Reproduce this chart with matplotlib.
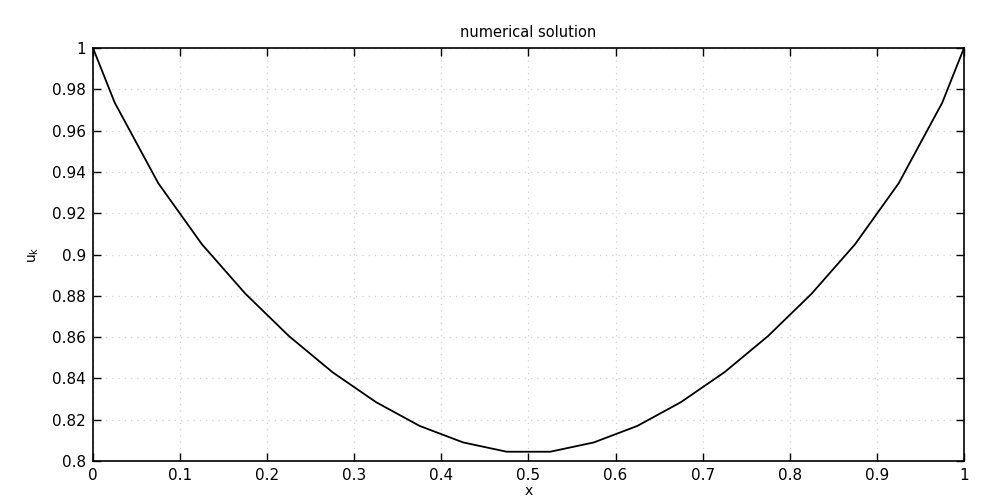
import numpy as np
import matplotlib.pyplot as plt

# cell centres plus the two boundary points
x_nodes = [0.0, 0.025, 0.075, 0.125, 0.175, 0.225, 0.275, 0.325, 0.375, 0.425, 0.475,
           0.525, 0.575, 0.625, 0.675, 0.725, 0.775, 0.825, 0.875, 0.925, 0.975, 1.0]
u_left = [1.0, 0.9735, 0.9345, 0.9050, 0.8810, 0.8605, 0.8430, 0.8285, 0.8170, 0.8090, 0.8045]
u_k = u_left + u_left[::-1]

x_ticks = [0, 0.1, 0.2, 0.3, 0.4, 0.5, 0.6, 0.7, 0.8, 0.9, 1]
x_ticklabels = ['0', '0.1', '0.2', '0.3', '0.4', '0.5', '0.6', '0.7', '0.8', '0.9', '1']
y_ticks = [0.8, 0.82, 0.84, 0.86, 0.88, 0.9, 0.92, 0.94, 0.96, 0.98, 1.0]
y_ticklabels = ['0.8', '0.82', '0.84', '0.86', '0.88', '0.9', '0.92', '0.94', '0.96', '0.98', '1']

plt.rcParams['font.family'] = ['DejaVu Sans']

fig = plt.figure(figsize=(9.87, 5.01), dpi=100)
ax = fig.add_axes([0.0942, 0.0798, 0.8825, 0.8244])

ax.plot(x_nodes, u_k, color='black', linewidth=1.3)

ax.set_xlim(0, 1)
ax.set_ylim(0.8, 1.0)
ax.set_xticks(x_ticks)
ax.set_xticklabels(x_ticklabels)
ax.set_yticks(y_ticks)
ax.set_yticklabels(y_ticklabels)
ax.tick_params(direction='in', length=6, width=1, top=True, right=True,
               labelsize=11, pad=5, colors='black')
ax.grid(True, linestyle=(0, (1, 4)), color='#d0d0d0', linewidth=0.9)
for s in ax.spines.values():
    s.set_linewidth(1.2)

ax.set_title('numerical solution', fontsize=10.5, pad=8)
ax.set_xlabel('x', fontsize=10, labelpad=1)
ax.set_ylabel('$\\mathregular{u_k}$', fontsize=10, labelpad=8)

plt.savefig('out.png', dpi=100)
